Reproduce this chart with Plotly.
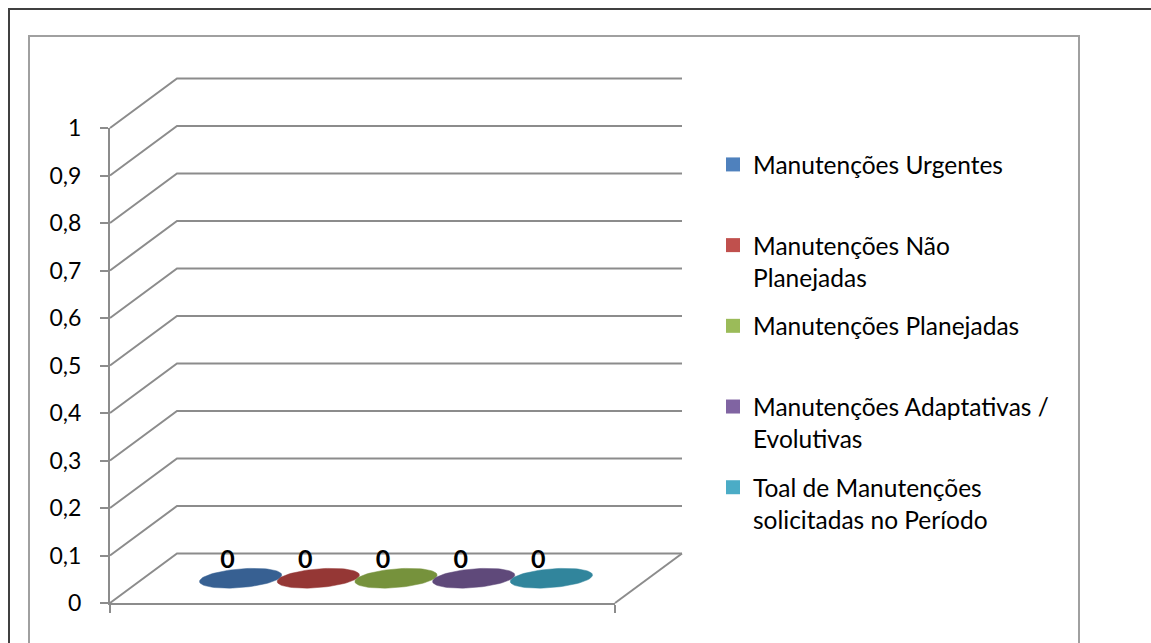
import numpy as np
import plotly.graph_objects as go

# ---------------- data ----------------
series_names = [
    "Manutenções Urgentes",
    "Manutenções Não<br>Planejadas",
    "Manutenções Planejadas",
    "Manutenções Adaptativas /<br>Evolutivas",
    "Toal de Manutenções<br>solicitadas no Período",
]
values = [0, 0, 0, 0, 0]
y_ticks = [0, 0.1, 0.2, 0.3, 0.4, 0.5, 0.6, 0.7, 0.8, 0.9, 1]
disc_colors = ["#376092", "#953735", "#76923C", "#5F497A", "#31859C"]
legend_colors = ["#4F81BD", "#C0504D", "#9BBB59", "#8064A2", "#4BACC6"]

# ---------------- layout geometry (pixels) ----------------
W, H = 1151, 643
AX_X0, AX_X1 = 110, 615      # front floor, category axis
AX_Y0, AX_Y1 = 603, 128      # value axis 0 .. 1
DEPTH_PX = (67, -49.5)       # oblique depth offset of the back wall
GAP_WIDTH = 1.5              # gap between clusters (Excel style)
DISC_DEPTH = 0.2             # depth radius of each disc (fraction of depth)
LABEL_SHIFT_PX = (-13, 17)   # data label offset from disc centre
FONT = "Lato"
GRID = "#8c8c8c"

px_per_u = (AX_X1 - AX_X0) / 1.0
px_per_v = (AX_Y0 - AX_Y1) / (y_ticks[-1] - y_ticks[0])
dx = DEPTH_PX[0] / px_per_u
dy = -DEPTH_PX[1] / px_per_v

# second subplot spanning the whole canvas with the same scale
x2_range = [-AX_X0 / px_per_u, (W - AX_X0) / px_per_u]
y2_range = [-(H - AX_Y0) / px_per_v, AX_Y0 / px_per_v]

fig = go.Figure()

# ---- grid: side wall diagonals and back wall lines ----
gx, gy = [], []
for v in y_ticks:
    gx += [0, dx, 1 + dx, None]
    gy += [v, v + dy, v + dy, None]
# right edge of the floor
gx += [1, 1 + dx, None]
gy += [y_ticks[0], y_ticks[0] + dy, None]
fig.add_trace(go.Scatter(x=gx, y=gy, mode="lines", xaxis="x2", yaxis="y2",
                         line=dict(color=GRID, width=2), hoverinfo="skip",
                         showlegend=False))

# ---- discs (zero-height cylinders) ----
n = len(values)
slot = 1.0 / (n + GAP_WIDTH)
t = np.linspace(0, 2 * np.pi, 80)
for i, (val, col) in enumerate(zip(values, disc_colors)):
    p = 0.5 + (i - (n - 1) / 2) * slot
    r = slot / 2
    depth = 0.5 + DISC_DEPTH * np.sin(t)
    ex = p + r * np.cos(t) + dx * depth
    ey = val + dy * depth
    fig.add_trace(go.Scatter(x=ex, y=ey, mode="lines", fill="toself",
                             fillcolor=col, line=dict(color=col, width=0.5),
                             xaxis="x2", yaxis="y2", hoverinfo="skip",
                             showlegend=False))

# ---- data labels ----
lab_x, lab_y = [], []
for i, val in enumerate(values):
    p = 0.5 + (i - (n - 1) / 2) * slot
    lab_x.append(p + dx * 0.5 + LABEL_SHIFT_PX[0] / px_per_u)
    lab_y.append(val + dy * 0.5 + LABEL_SHIFT_PX[1] / px_per_v)
fig.add_trace(go.Scatter(x=lab_x, y=lab_y, mode="text",
                         text=["<b>%g</b>" % v for v in values],
                         textfont=dict(family=FONT, size=25, color="black"),
                         xaxis="x2", yaxis="y2", hoverinfo="skip",
                         showlegend=False))

# ---- legend entries ----
for i, (name, col) in enumerate(zip(series_names, legend_colors)):
    label = name if "<br>" in name else name + "<br> "
    fig.add_trace(go.Scatter(x=[None], y=[None], mode="markers", name=label,
                             legendgroup="g%d" % i,
                             marker=dict(symbol="square", size=14, color=col,
                                         line=dict(width=0))))

fig.update_layout(
    width=W, height=H,
    margin=dict(l=0, r=0, t=0, b=0, pad=0, autoexpand=False),
    paper_bgcolor="white", plot_bgcolor="rgba(0,0,0,0)",
    separators=",.",
    font=dict(family=FONT, size=23, color="black"),
    xaxis=dict(domain=[AX_X0 / W, AX_X1 / W], range=[0, 1],
               showgrid=False, zeroline=False, showline=True,
               linecolor=GRID, linewidth=2, ticks="outside",
               tickvals=[0, 1], ticklen=8, tickwidth=2, tickcolor=GRID,
               showticklabels=False, fixedrange=True, automargin=False),
    yaxis=dict(domain=[(H - AX_Y0) / H, (H - AX_Y1) / H],
               range=[y_ticks[0], y_ticks[-1]],
               tickvals=y_ticks, showgrid=False, zeroline=False,
               showline=True, linecolor=GRID, linewidth=2,
               ticks="outside", ticklen=8, tickwidth=2, tickcolor=GRID,
               ticklabelstandoff=14, automargin=False,
               tickfont=dict(family=FONT, size=23, color="black"),
               fixedrange=True),
    xaxis2=dict(domain=[0, 1], range=x2_range, anchor="y2",
                visible=False, fixedrange=True, automargin=False),
    yaxis2=dict(domain=[0, 1], range=y2_range, anchor="x2",
                visible=False, fixedrange=True, automargin=False),
    legend=dict(x=713 / W, y=1 - 142 / H, xanchor="left", yanchor="top",
                bgcolor="rgba(0,0,0,0)", valign="top", tracegroupgap=14,
                font=dict(family=FONT, size=24.5, color="black"),
                traceorder="grouped"),
    showlegend=True,
    shapes=[
        dict(type="rect", xref="paper", yref="paper",
             x0=9 / W, x1=1.05, y0=1 - 9 / H, y1=-0.05,
             line=dict(color="#404040", width=2), layer="below"),
        dict(type="rect", xref="paper", yref="paper",
             x0=29 / W, x1=1079 / W, y0=1 - 36 / H, y1=-0.05,
             line=dict(color="#a0a0a0", width=2), layer="below"),
    ],
)

fig.write_html("out.html", config={"displayModeBar": False},
               post_script="document.body.style.margin='0px';")
